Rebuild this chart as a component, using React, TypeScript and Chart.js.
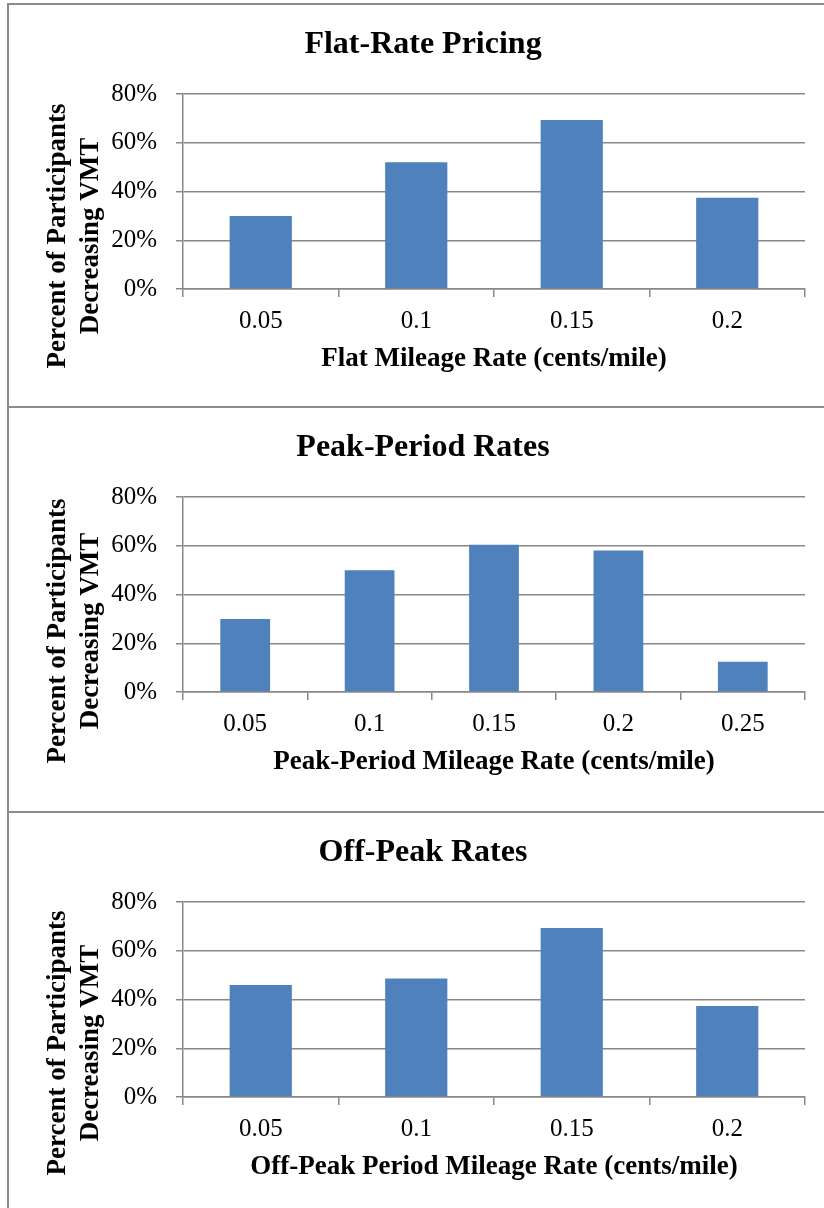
import { useEffect, useRef } from "react";
import { Chart, registerables } from "chart.js";

Chart.register(...registerables);

// Flat-rate pricing: share of participants who cut VMT at each flat rate
const flatRates = ["0.05", "0.1", "0.15", "0.2"];
const flatShares = [30, 52, 69.3, 37.4];

// Peak-period pricing
const peakRates = ["0.05", "0.1", "0.15", "0.2", "0.25"];
const peakShares = [30, 50, 60.4, 58.1, 12.4];

// Off-peak pricing
const offPeakRates = ["0.05", "0.1", "0.15", "0.2"];
const offPeakShares = [46, 48.6, 69.3, 37.3];

const percentMax = 80;
const percentStep = 20;
const yTitleLines = ["Percent of Participants", "Decreasing VMT"];

const SERIF = "'Liberation Serif', 'Times New Roman', serif";
const GRID = "#888888";
const BAR = "#4f81bd";
const RULE = "#8c8c8c";

const CANVAS_W = 824;
const CANVAS_H = 396;

type PanelProps = {
  top: number;
  title: string;
  xTitle: string;
  labels: string[];
  values: number[];
  yTitleCenter: number;
};

function Panel({ top, title, xTitle, labels, values, yTitleCenter }: PanelProps) {
  const ref = useRef<HTMLCanvasElement | null>(null);

  useEffect(() => {
    if (!ref.current) return;

    const textPlugin = {
      id: "panelText",
      afterDraw(chart: Chart) {
        const { ctx, chartArea } = chart;
        ctx.save();
        ctx.fillStyle = "#000";
        ctx.textAlign = "center";
        ctx.textBaseline = "middle";

        // chart title
        ctx.font = `bold 32px ${SERIF}`;
        ctx.fillText(title, 423, 41);

        // x-axis title
        ctx.font = `bold 27px ${SERIF}`;
        ctx.fillText(xTitle, (chartArea.left + chartArea.right) / 2, 355);

        // y-axis title, two rotated lines
        ctx.translate(0, yTitleCenter);
        ctx.rotate(-Math.PI / 2);
        ctx.fillText(yTitleLines[0], 0, 58);
        ctx.fillText(yTitleLines[1], 0, 91);
        ctx.restore();
      },
    };

    const chart = new Chart(ref.current, {
      type: "bar",
      data: {
        labels,
        datasets: [
          {
            data: values,
            backgroundColor: BAR,
            borderWidth: 0,
            barPercentage: 0.4,
            categoryPercentage: 1,
          },
        ],
      },
      options: {
        responsive: false,
        animation: false,
        devicePixelRatio: 1,
        layout: { padding: { top: 90, right: 19, left: 0, bottom: 0 } },
        plugins: {
          legend: { display: false },
          title: { display: false },
          tooltip: { enabled: false },
        },
        scales: {
          x: {
            offset: true,
            afterFit(scale: any) {
              scale.height = CANVAS_H - 285;
            },
            grid: {
              offset: true,
              drawOnChartArea: false,
              drawTicks: true,
              tickLength: 8,
              color: GRID,
              lineWidth: 1.5,
            },
            border: { display: true, color: GRID, width: 1.5 },
            ticks: {
              color: "#000",
              padding: 9,
              font: { family: SERIF, size: 25 },
              maxRotation: 0,
              autoSkip: false,
            },
          },
          y: {
            min: 0,
            max: percentMax,
            afterFit(scale: any) {
              scale.width = 183;
            },
            grid: {
              color: GRID,
              lineWidth: 1.5,
              drawTicks: true,
              tickLength: 7,
            },
            border: { display: true, color: GRID, width: 1.5 },
            ticks: {
              stepSize: percentStep,
              color: "#000",
              padding: 19,
              font: { family: SERIF, size: 25 },
              callback: (v: any) => `${v}%`,
            },
          },
        },
      },
      plugins: [textPlugin],
    });

    return () => chart.destroy();
  }, [title, xTitle, labels, values, yTitleCenter]);

  return (
    <canvas
      ref={ref}
      width={CANVAS_W}
      height={CANVAS_H}
      style={{ position: "absolute", left: 0, top, width: CANVAS_W, height: CANVAS_H }}
    />
  );
}

function Rule({ left, top, width, height }: { left: number; top: number; width: number; height: number }) {
  return <div style={{ position: "absolute", left, top, width, height, background: RULE }} />;
}

export default function App() {
  return (
    <div
      style={{
        position: "absolute",
        left: 0,
        top: 0,
        width: 824,
        height: 1208,
        overflow: "hidden",
        background: "#fff",
      }}
    >
      <Panel
        top={4}
        title="Flat-Rate Pricing"
        xTitle="Flat Mileage Rate (cents/mile)"
        labels={flatRates}
        values={flatShares}
        yTitleCenter={232}
      />
      <Panel
        top={407}
        title="Peak-Period Rates"
        xTitle="Peak-Period Mileage Rate (cents/mile)"
        labels={peakRates}
        values={peakShares}
        yTitleCenter={224}
      />
      <Panel
        top={812}
        title="Off-Peak Rates"
        xTitle="Off-Peak Period Mileage Rate (cents/mile)"
        labels={offPeakRates}
        values={offPeakShares}
        yTitleCenter={231}
      />
      <Rule left={7} top={3} width={817} height={2} />
      <Rule left={7} top={3} width={2} height={1205} />
      <Rule left={7} top={406} width={817} height={2} />
      <Rule left={7} top={811} width={817} height={2} />
    </div>
  );
}
